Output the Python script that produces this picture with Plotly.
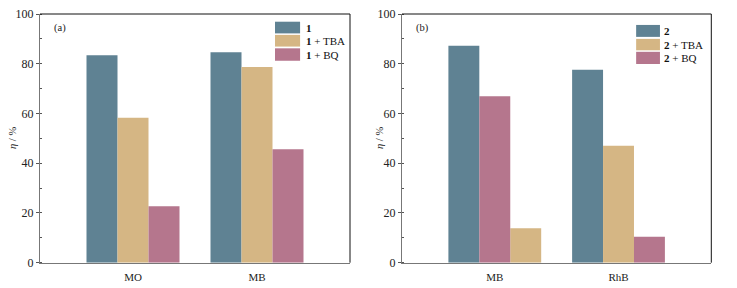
import plotly.graph_objects as go

# ---------------- data ----------------
cats_a = ["MO", "MB"]
a_cat = [83.4, 84.6]
a_tba = [58.3, 78.7]
a_bq = [22.7, 45.6]

cats_b = ["MB", "RhB"]
b_cat = [87.2, 77.6]
b_tba = [13.9, 47.0]
b_bq = [66.9, 10.4]

names_a = ["<b>1</b>", "<b>1</b> + TBA", "<b>1</b> + BQ"]
names_b = ["<b>2</b>", "<b>2</b> + TBA", "<b>2</b> + BQ"]
y_ticks = [0, 20, 40, 60, 80, 100]

# ---------------- style ----------------
C_BLUE = "#5f8293"
C_TAN = "#d5b684"
C_PINK = "#b5768d"
FONT = "Liberation Serif"
W = 0.25
SLOT = [-0.375, -0.125, 0.125]

# page has an 8px body margin: figure is drawn 8px right/down
OFF = 8
FW, FH = 737 - OFF, 288 - OFF


def fx(X):
    return (X - OFF) / FW


def fy(Y):
    return (FH - (Y - OFF)) / FH


fig = go.Figure()

for vals, col, slot in [(a_cat, C_BLUE, 0), (a_tba, C_TAN, 1), (a_bq, C_PINK, 2)]:
    fig.add_trace(go.Bar(x=cats_a, y=vals, width=W, offset=SLOT[slot],
                         marker=dict(color=col, line=dict(width=0)),
                         xaxis="x", yaxis="y", showlegend=False))

# panel (b): in MB group the BQ bar precedes the TBA bar
fig.add_trace(go.Bar(x=cats_b, y=b_cat, width=W, offset=SLOT[0],
                     marker=dict(color=C_BLUE, line=dict(width=0)),
                     xaxis="x2", yaxis="y2", showlegend=False))
fig.add_trace(go.Bar(x=cats_b, y=b_tba, width=W, offset=[SLOT[2], SLOT[1]],
                     marker=dict(color=C_TAN, line=dict(width=0)),
                     xaxis="x2", yaxis="y2", showlegend=False))
fig.add_trace(go.Bar(x=cats_b, y=b_bq, width=W, offset=[SLOT[1], SLOT[2]],
                     marker=dict(color=C_PINK, line=dict(width=0)),
                     xaxis="x2", yaxis="y2", showlegend=False))

dom_a = [fx(40), fx(350)]
dom_b = [fx(402), fx(711.3)]
dom_y = [fy(262.7), fy(14)]

xcommon = dict(range=[-0.75, 1.75], showline=True, linecolor="#777", linewidth=1,
               ticks="", showgrid=False, zeroline=False, automargin=False,
               ticklabeloverflow="allow",
               tickfont=dict(family=FONT, size=11, color="#222"), ticklabelstandoff=4)
ycommon = dict(range=[0, 100], tickvals=y_ticks, showline=True, linecolor="#777", linewidth=1,
               ticks="outside", ticklen=3, tickcolor="#555", showgrid=False, zeroline=False,
               automargin=False, ticklabeloverflow="allow",
               minor=dict(dtick=10, ticks="inside", ticklen=2, tickcolor="#555", showgrid=False),
               tickfont=dict(family=FONT, size=12, color="#222"))

shapes = []
annotations = []
legend_rows_a = [(0.969, 0.922), (0.916, 0.869), (0.862, 0.812)]
legend_rows_b = [(0.956, 0.908), (0.900, 0.854), (0.848, 0.799)]
cols = [C_BLUE, C_TAN, C_PINK]
for xr, yr, rows, sx0, sx1, tx, names, lab in [
        ("x", "y", legend_rows_a, 0.758, 0.839, 0.852, names_a, "(a)"),
        ("x2", "y2", legend_rows_b, 0.757, 0.834, 0.842, names_b, "(b)")]:
    shapes.append(dict(type="line", xref=f"{xr} domain", yref=f"{yr} domain",
                       x0=0, x1=1, y0=1, y1=1, line=dict(color="#111", width=1)))
    shapes.append(dict(type="line", xref=f"{xr} domain", yref=f"{yr} domain",
                       x0=1, x1=1, y0=0, y1=1, line=dict(color="#111", width=1)))
    for (y1, y0), col, nm in zip(rows, cols, names):
        shapes.append(dict(type="rect", xref=f"{xr} domain", yref=f"{yr} domain",
                           x0=sx0, x1=sx1, y0=y0, y1=y1, fillcolor=col,
                           line=dict(width=0)))
        annotations.append(dict(xref=f"{xr} domain", yref=f"{yr} domain",
                                x=tx, y=(y0 + y1) / 2, text=nm, showarrow=False,
                                xanchor="left", yanchor="middle",
                                font=dict(family=FONT, size=11, color="#111")))
    annotations.append(dict(xref=f"{xr} domain", yref=f"{yr} domain",
                            x=0.04, y=0.945, text=lab, showarrow=False,
                            xanchor="left", yanchor="middle",
                            font=dict(family=FONT, size=10.5, color="#222")))

for px in [12, 379]:
    annotations.append(dict(xref="paper", yref="paper", x=fx(px), y=fy(138),
                            text="<i>η</i> / %", textangle=-90, showarrow=False,
                            xanchor="center", yanchor="middle",
                            font=dict(family=FONT, size=10.5, color="#222")))

fig.update_layout(
    template="none",
    width=FW, height=FH,
    margin=dict(l=0, r=0, t=0, b=0),
    paper_bgcolor="white", plot_bgcolor="white",
    barmode="overlay",
    xaxis=dict(domain=dom_a, anchor="y", **xcommon),
    yaxis=dict(domain=dom_y, anchor="x", **ycommon),
    xaxis2=dict(domain=dom_b, anchor="y2", **xcommon),
    yaxis2=dict(domain=dom_y, anchor="x2", **ycommon),
    shapes=shapes,
    annotations=annotations,
    showlegend=False,
)

fig.write_html("out.html")
